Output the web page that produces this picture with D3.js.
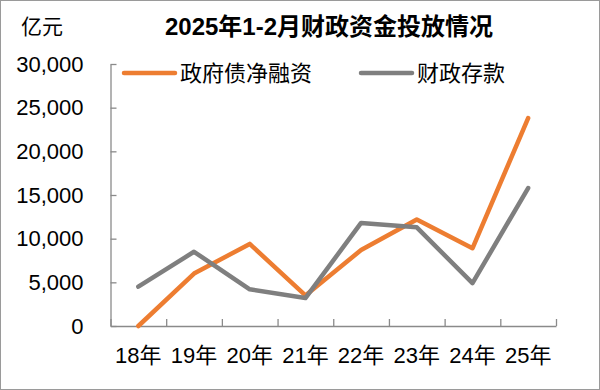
<!DOCTYPE html>
<html>
<head>
<meta charset="utf-8">
<script src="https://cdn.jsdelivr.net/npm/d3@7/dist/d3.min.js"></script>
<style>
  body { margin: 0; background: #fff; }
  text { font-family: "Liberation Sans", Arial, "Noto Sans CJK SC", sans-serif; fill: #000; }
</style>
</head>
<body>
<script>
// data
let years = ['18年', '19年', '20年', '21年', '22年', '23年', '24年', '25年'];
let govBond = [0, 6000, 9400, 3500, 8700, 12200, 8900, 23800];
let fiscalDeposit = [4500, 8500, 4200, 3200, 11800, 11300, 4900, 15800];
let yTicks = [0, 5000, 10000, 15000, 20000, 25000, 30000];
let seriesNames = ['政府债净融资', '财政存款'];
let colors = ['#ED7D31', '#7F7F7F'];

let dim = { width: 600, height: 390 };
let svg = d3.select('body').append('svg')
  .attr('width', dim.width)
  .attr('height', dim.height);

// outer frame
svg.append('rect')
  .attr('x', 0.5).attr('y', 0.5)
  .attr('width', dim.width - 1).attr('height', dim.height - 1)
  .attr('fill', '#fff').attr('stroke', '#9a9a9a');

let plot = { left: 110.5, right: 556, top: 64, bottom: 326 };

let scaleX = d3.scaleBand(years, [plot.left, plot.right]);
let scaleIdx = d3.scaleLinear([0, years.length], [plot.left, plot.right]);
let scaleY = d3.scaleLinear([0, 30000], [plot.bottom, plot.top]);

// y axis
let axisY = d3.axisLeft(scaleY)
  .tickValues(yTicks)
  .tickFormat(d3.format(','))
  .tickSize(-6)
  .tickSizeOuter(0)
  .tickPadding(27);
let gy = svg.append('g')
  .attr('transform', `translate(${plot.left},0)`)
  .call(axisY);
gy.selectAll('text').style('font-size', '22px');

// x axis ticks at band boundaries
svg.append('g')
  .attr('transform', `translate(0,${plot.bottom})`)
  .call(d3.axisBottom(scaleIdx)
    .tickValues(d3.range(years.length + 1))
    .tickFormat('')
    .tickSize(-7)
    .tickSizeOuter(0));

// x axis labels
let gx = svg.append('g')
  .attr('transform', `translate(0,${plot.bottom})`)
  .call(d3.axisBottom(scaleX).tickSize(0).tickPadding(21));
gx.select('.domain').remove();
gx.selectAll('text').style('font-size', '22px');

svg.selectAll('.domain, .tick line')
  .attr('stroke', '#8a8a8a')
  .attr('stroke-width', 1.3);

// lines
let line = d3.line()
  .x((d, i) => scaleX(years[i]) + scaleX.bandwidth() / 2)
  .y(d => scaleY(d));

[govBond, fiscalDeposit].forEach((values, k) => {
  svg.append('path')
    .datum(values)
    .attr('d', line)
    .attr('fill', 'none')
    .attr('stroke', colors[k])
    .attr('stroke-width', 4.5)
    .attr('stroke-linejoin', 'round')
    .attr('stroke-linecap', 'round');
});

// legend
let legendPos = [{ x: 124, y: 73 }, { x: 361, y: 73 }];
seriesNames.forEach((name, k) => {
  let g = svg.append('g').attr('transform', `translate(${legendPos[k].x},${legendPos[k].y})`);
  g.append('line')
    .attr('x1', 0).attr('x2', 51)
    .attr('stroke', colors[k])
    .attr('stroke-width', 4.5)
    .attr('stroke-linecap', 'round');
  g.append('text')
    .attr('x', 56)
    .attr('dy', '0.36em')
    .style('font-size', '22px')
    .text(name);
});

// title and unit
svg.append('text')
  .attr('x', 329).attr('y', 35)
  .attr('text-anchor', 'middle')
  .style('font-size', '24px')
  .style('font-weight', 'bold')
  .text('2025年1-2月财政资金投放情况');

svg.append('text')
  .attr('x', 21).attr('y', 34)
  .style('font-size', '21px')
  .text('亿元');
</script>
</body>
</html>
